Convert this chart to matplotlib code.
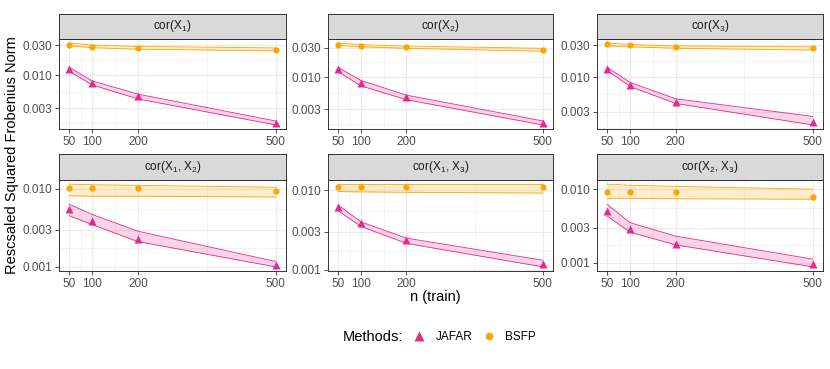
import numpy as np
import matplotlib
matplotlib.use('Agg')
from matplotlib import pyplot as plt
from matplotlib.lines import Line2D
from matplotlib.ticker import FixedLocator, FormatStrFormatter, NullFormatter

plt.rcParams['font.family'] = ['Liberation Sans', 'DejaVu Sans']
plt.rcParams['mathtext.fontset'] = 'custom'
plt.rcParams['mathtext.rm'] = 'Liberation Sans'
plt.rcParams['mathtext.it'] = 'Liberation Sans:italic'

###### Data
n_train = [50, 100, 200, 500]
panel_titles = ['cor(X$_1$)', 'cor(X$_2$)', 'cor(X$_3$)',
                'cor(X$_1$, X$_2$)', 'cor(X$_1$, X$_3$)', 'cor(X$_2$, X$_3$)']

jafar_med = [[0.0125, 0.0076, 0.0046, 0.00174],
             [0.0133, 0.0081, 0.0047, 0.00182],
             [0.0133, 0.0076, 0.0042, 0.00208],
             [0.0055, 0.0039, 0.00227, 0.00106],
             [0.0061, 0.00387, 0.0024, 0.00117],
             [0.0050, 0.0029, 0.0018, 0.00096]]
jafar_lo = [[0.0115, 0.0070, 0.0042, 0.00163],
            [0.0122, 0.0072, 0.0043, 0.00168],
            [0.0125, 0.0072, 0.0040, 0.0019],
            [0.0045, 0.00346, 0.0021, 0.0010],
            [0.0055, 0.0035, 0.00215, 0.00109],
            [0.0043, 0.0026, 0.00175, 0.00088]]
jafar_hi = [[0.0133, 0.0081, 0.0050, 0.00188],
            [0.0143, 0.0088, 0.0051, 0.00195],
            [0.0140, 0.0083, 0.0047, 0.00255],
            [0.0063, 0.00467, 0.00285, 0.00117],
            [0.0065, 0.0040, 0.0025, 0.00132],
            [0.0062, 0.0035, 0.0023, 0.00112]]

bsfp_med = [[0.0300, 0.0280, 0.0266, 0.0249],
            [0.0335, 0.0322, 0.0304, 0.0278],
            [0.0320, 0.0303, 0.0283, 0.0270],
            [0.0103, 0.0103, 0.0103, 0.0093],
            [0.0110, 0.0110, 0.0109, 0.0108],
            [0.0092, 0.0092, 0.0092, 0.0078]]
bsfp_lo = [[0.0290, 0.0272, 0.0258, 0.0243],
           [0.0325, 0.0310, 0.0292, 0.0262],
           [0.0295, 0.0285, 0.0272, 0.0255],
           [0.0081, 0.0080, 0.0080, 0.0078],
           [0.0096, 0.0095, 0.0094, 0.0092],
           [0.0075, 0.0075, 0.0074, 0.0073]]
bsfp_hi = [[0.0322, 0.0300, 0.0285, 0.0270],
           [0.0355, 0.0335, 0.0318, 0.0292],
           [0.0325, 0.0310, 0.0295, 0.0285],
           [0.0114, 0.0112, 0.0110, 0.0104],
           [0.0119, 0.0119, 0.0119, 0.0119],
           [0.0117, 0.0113, 0.0109, 0.0100]]

y_breaks = [0.001, 0.003, 0.010, 0.030]
x_breaks = [50, 100, 200, 500]

col_jafar = '#E7298A'
col_bsfp = '#FFA500'

###### Layout (pixels)
W, H = 830, 369
fig = plt.figure(figsize=(W / 100, H / 100), dpi=100)
col_x = [(59, 286), (328, 553), (597, 823)]
row_y = [(14, 39, 129), (154, 180, 271)]

def fig_rect(x0, x1, y0, y1):
    return [x0 / W, 1 - y1 / H, (x1 - x0) / W, (y1 - y0) / H]

for i in range(6):
    r, c = divmod(i, 3)
    x0, x1 = col_x[c]
    s0, p0, p1 = row_y[r]
    ax = fig.add_axes(fig_rect(x0, x1, p0, p1))
    st = fig.add_axes(fig_rect(x0, x1, s0, p0))

    ax.fill_between(n_train, jafar_lo[i], jafar_hi[i], color=col_jafar, alpha=0.2, lw=0)
    ax.plot(n_train, jafar_lo[i], color=col_jafar, lw=0.6)
    ax.plot(n_train, jafar_hi[i], color=col_jafar, lw=0.6)
    ax.fill_between(n_train, bsfp_lo[i], bsfp_hi[i], color=col_bsfp, alpha=0.2, lw=0)
    ax.plot(n_train, bsfp_lo[i], color=col_bsfp, lw=0.6)
    ax.plot(n_train, bsfp_hi[i], color=col_bsfp, lw=0.6)
    ax.plot(n_train, jafar_med[i], ls='none', marker='^', ms=5.5, color=col_jafar, mec='none')
    ax.plot(n_train, bsfp_med[i], ls='none', marker='o', ms=4.5, color=col_bsfp, mec='none')

    ax.set_yscale('log')
    allv = np.log10(np.concatenate([jafar_lo[i], jafar_hi[i], bsfp_lo[i], bsfp_hi[i],
                                    jafar_med[i], bsfp_med[i]]))
    lo, hi = allv.min(), allv.max()
    pad = 0.05 * (hi - lo)
    ax.set_ylim(10 ** (lo - pad), 10 ** (hi + pad))
    ax.set_xlim(50 - 22.5, 500 + 22.5)

    lb = np.log10(y_breaks)
    mids = list(10 ** ((lb[:-1] + lb[1:]) / 2)) + [10 ** (lb[0] - 0.24), 10 ** (lb[-1] + 0.24)]
    ax.yaxis.set_major_locator(FixedLocator(y_breaks))
    ax.yaxis.set_major_formatter(FormatStrFormatter('%.3f'))
    ax.yaxis.set_minor_locator(FixedLocator(mids))
    ax.yaxis.set_minor_formatter(NullFormatter())
    ax.xaxis.set_major_locator(FixedLocator(x_breaks))
    ax.xaxis.set_minor_locator(FixedLocator([75, 150, 350]))

    ax.grid(True, which='major', color='#EBEBEB', lw=0.8)
    ax.grid(True, which='minor', color='#EBEBEB', lw=0.4)
    ax.set_axisbelow(True)
    ax.tick_params(which='major', length=3, width=0.6, color='#333333',
                   labelsize=8.5, labelcolor='#4D4D4D', pad=2)
    ax.tick_params(which='minor', length=0)
    for sp in ax.spines.values():
        sp.set_color('#333333')
        sp.set_linewidth(0.7)

    st.set_facecolor('#D9D9D9')
    st.set_xticks([])
    st.set_yticks([])
    for sp in st.spines.values():
        sp.set_color('#333333')
        sp.set_linewidth(0.7)
    st.text(0.5, 0.5, panel_titles[i], ha='center', va='center', fontsize=8.5,
            color='#1A1A1A', transform=st.transAxes)

fig.text(435 / W, 1 - 297 / H, 'n (train)', ha='center', va='center', fontsize=10.5)
fig.text(12 / W, 1 - 155 / H, 'Rescsaled Squared Frobenius Norm', ha='center', va='center',
         rotation=90, fontsize=10.5)

###### Legend
fig.text(343 / W, 1 - 337 / H, 'Methods:', ha='left', va='center', fontsize=10.5)
handles = [Line2D([], [], ls='none', marker='^', ms=6.5, color=col_jafar, mec='none'),
           Line2D([], [], ls='none', marker='o', ms=5.5, color=col_bsfp, mec='none')]
fig.legend(handles, ['JAFAR', 'BSFP'], ncol=2, frameon=False, fontsize=8.5,
           loc='center left', bbox_to_anchor=(400 / W, 1 - 337 / H),
           handlelength=1.5, handletextpad=0.6, columnspacing=0.7)

fig.savefig('out.png', dpi=100)
